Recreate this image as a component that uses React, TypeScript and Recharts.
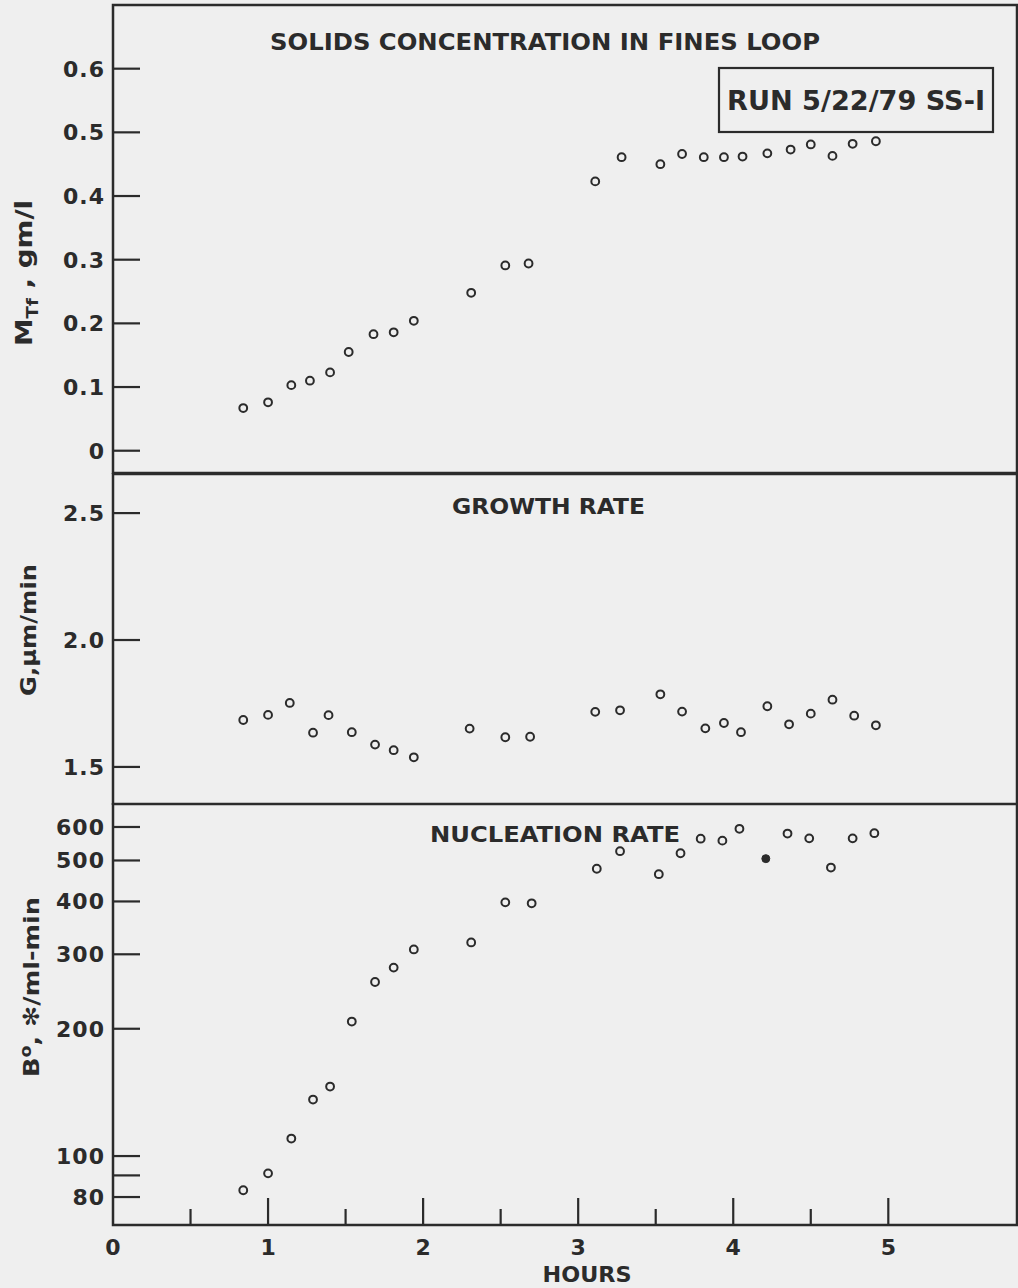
import React from 'react';
import { ScatterChart, Scatter, XAxis, YAxis, ReferenceArea } from 'recharts';

// Run 5/22/79 SS-1
const INK = '#2b2b2b';
const PAPER = '#efefef';
const FONT = '"DejaVu Sans", Verdana, sans-serif';
const XMAX = 5.83;

const hourTicks = [0, 0.5, 1, 1.5, 2, 2.5, 3, 3.5, 4, 4.5, 5];

// solids concentration in fines loop, gm/l
const solidsHours = [0.84, 1.0, 1.15, 1.27, 1.4, 1.52, 1.68, 1.81, 1.94, 2.31, 2.53, 2.68, 3.11, 3.28, 3.53, 3.67, 3.81, 3.94, 4.06, 4.22, 4.37, 4.5, 4.64, 4.77, 4.92];
const solidsConc = [0.067, 0.076, 0.103, 0.11, 0.123, 0.155, 0.183, 0.186, 0.204, 0.248, 0.291, 0.294, 0.423, 0.461, 0.45, 0.466, 0.461, 0.461, 0.462, 0.467, 0.473, 0.481, 0.463, 0.482, 0.486];
const solidsTicks = [0, 0.1, 0.2, 0.3, 0.4, 0.5, 0.6];

// growth rate, um/min
const growthHours = [0.84, 1.0, 1.14, 1.29, 1.39, 1.54, 1.69, 1.81, 1.94, 2.3, 2.53, 2.69, 3.11, 3.27, 3.53, 3.67, 3.82, 3.94, 4.05, 4.22, 4.36, 4.5, 4.64, 4.78, 4.92];
const growthRate = [1.685, 1.705, 1.752, 1.635, 1.704, 1.637, 1.588, 1.566, 1.538, 1.651, 1.617, 1.619, 1.717, 1.723, 1.786, 1.718, 1.652, 1.673, 1.637, 1.739, 1.668, 1.71, 1.765, 1.702, 1.664];
const growthTicks = [1.5, 2.0, 2.5];

// nucleation rate, #/ml-min (log axis); one point is drawn filled
const nucHours = [0.84, 1.0, 1.15, 1.29, 1.4, 1.54, 1.69, 1.81, 1.94, 2.31, 2.53, 2.7, 3.12, 3.27, 3.52, 3.66, 3.79, 3.93, 4.04, 4.21, 4.35, 4.49, 4.63, 4.77, 4.91];
const nucRate = [83, 91, 110, 136, 146, 208, 258, 279, 308, 320, 398, 396, 478, 526, 464, 520, 563, 557, 594, 505, 579, 564, 481, 564, 580];
const nucFilled = [false, false, false, false, false, false, false, false, false, false, false, false, false, false, false, false, false, false, false, true, false, false, false, false, false];
const nucTicks = [80, 90, 100, 200, 300, 400, 500, 600];

const solidsData = solidsHours.map((x, i) => ({ x, y: solidsConc[i] }));
const growthData = growthHours.map((x, i) => ({ x, y: growthRate[i] }));
const nucOpen = nucHours.map((x, i) => ({ x, y: nucRate[i] })).filter((_, i) => !nucFilled[i]);
const nucSolid = nucHours.map((x, i) => ({ x, y: nucRate[i] })).filter((_, i) => nucFilled[i]);

const OpenDot = (props: any) => (
  <circle cx={props.cx} cy={props.cy} r={3.9} fill="none" stroke={INK} strokeWidth={2} />
);
const FilledDot = (props: any) => (
  <circle cx={props.cx} cy={props.cy} r={4} fill={INK} stroke={INK} strokeWidth={1} />
);

// ticks point inward from the frame, labels sit outside
const makeYTick = (fmt: (v: number) => string) => (props: any) => {
  const { x, y, payload } = props;
  return (
    <g>
      <line x1={x} y1={y} x2={x + 27} y2={y} stroke={INK} strokeWidth={2.2} />
      <text x={x - 8} y={y} dy="0.36em" textAnchor="end" fontFamily={FONT} fontWeight={700}
        fontSize={22} fill={INK} letterSpacing={1}>
        {fmt(payload.value)}
      </text>
    </g>
  );
};

const HourTick = (props: any) => {
  const { x, y, payload } = props;
  const major = Number.isInteger(payload.value);
  return (
    <g>
      {payload.value > 0 && (
        <line x1={x} y1={y} x2={x} y2={y - (major ? 27 : 16)} stroke={INK} strokeWidth={2.2} />
      )}
      {major && (
        <text x={x} y={y + 30} textAnchor="middle" fontFamily={FONT} fontWeight={700}
          fontSize={22} fill={INK}>
          {payload.value}
        </text>
      )}
    </g>
  );
};

const frame = { fill: 'none', stroke: INK, strokeWidth: 2.5, fillOpacity: 0 };

const App: React.FC = () => {
  return (
    <div style={{ position: 'absolute', left: 0, top: 0, width: 1018, height: 1288, background: PAPER, overflow: 'hidden' }}>
      <div style={{ position: 'absolute', left: 0, top: 0 }}>
        <ScatterChart width={1018} height={474} margin={{ top: 5, right: 1, bottom: 1, left: 0 }}>
          <XAxis type="number" dataKey="x" domain={[0, XMAX]} hide allowDataOverflow />
          <YAxis type="number" dataKey="y" domain={[-0.035, 0.7]} ticks={solidsTicks} width={113}
            allowDataOverflow axisLine={false} tickLine={false} tickSize={0} tickMargin={0}
            tick={makeYTick((v) => (v === 0 ? '0' : v.toFixed(1)))} />
          <ReferenceArea x1={0} x2={XMAX} y1={-0.035} y2={0.7} {...frame} />
          <Scatter data={solidsData} shape={OpenDot} isAnimationActive={false} />
        </ScatterChart>
      </div>

      <div style={{ position: 'absolute', left: 0, top: 473 }}>
        <ScatterChart width={1018} height={332} margin={{ top: 1, right: 1, bottom: 1, left: 0 }}>
          <XAxis type="number" dataKey="x" domain={[0, XMAX]} hide allowDataOverflow />
          <YAxis type="number" dataKey="y" domain={[1.354, 2.654]} ticks={growthTicks} width={113}
            allowDataOverflow axisLine={false} tickLine={false} tickSize={0} tickMargin={0}
            tick={makeYTick((v) => v.toFixed(1))} />
          <ReferenceArea x1={0} x2={XMAX} y1={1.354} y2={2.654} {...frame} />
          <Scatter data={growthData} shape={OpenDot} isAnimationActive={false} />
        </ScatterChart>
      </div>

      <div style={{ position: 'absolute', left: 0, top: 803 }}>
        <ScatterChart width={1018} height={485} margin={{ top: 1, right: 1, bottom: 0, left: 0 }}>
          <XAxis type="number" dataKey="x" domain={[0, XMAX]} ticks={hourTicks} height={63}
            allowDataOverflow axisLine={false} tickLine={false} tickSize={0} tickMargin={0}
            tick={HourTick} interval={0} />
          <YAxis type="number" dataKey="y" scale="log" domain={[68.7, 680]} ticks={nucTicks} width={113}
            allowDataOverflow axisLine={false} tickLine={false} tickSize={0} tickMargin={0} interval={0}
            tick={makeYTick((v) => (v === 90 ? '' : String(v)))} />
          <ReferenceArea x1={0} x2={XMAX} y1={68.7} y2={680} {...frame} />
          <Scatter data={nucOpen} shape={OpenDot} isAnimationActive={false} />
          <Scatter data={nucSolid} shape={FilledDot} isAnimationActive={false} />
        </ScatterChart>
      </div>

      <svg width={1018} height={1288} style={{ position: 'absolute', left: 0, top: 0, pointerEvents: 'none' }}
        fontFamily={FONT} fontWeight={700} fill={INK}>
        <text x={270} y={50} fontSize={23} textLength={550} lengthAdjust="spacingAndGlyphs">SOLIDS CONCENTRATION IN FINES LOOP</text>
        <rect x={719} y={68} width={274} height={64} fill="none" stroke={INK} strokeWidth={2.2} />
        <text x={727} y={110} fontSize={26} textLength={258} lengthAdjust="spacingAndGlyphs">RUN 5/22/79  SS-I</text>
        <text x={452} y={514} fontSize={22} textLength={193} lengthAdjust="spacingAndGlyphs">GROWTH RATE</text>
        <text x={430} y={842} fontSize={22} textLength={250} lengthAdjust="spacingAndGlyphs">NUCLEATION RATE</text>
        <text x={587} y={1282} fontSize={21} textAnchor="middle" textLength={89} lengthAdjust="spacingAndGlyphs">HOURS</text>

        <text transform="translate(32,273) rotate(-90)" fontSize={23} textAnchor="middle" textLength={146} lengthAdjust="spacingAndGlyphs">
          M<tspan fontSize={15} dy={6}>Tf</tspan><tspan dy={-6}> , gm/l</tspan>
        </text>
        <text transform="translate(36,630) rotate(-90)" fontSize={22} textAnchor="middle" textLength={132} lengthAdjust="spacingAndGlyphs">G,µm/min</text>
        <text transform="translate(39,987) rotate(-90)" fontSize={22} textAnchor="middle" textLength={180} lengthAdjust="spacingAndGlyphs">
          B<tspan fontSize={15} dy={-8}>o</tspan><tspan dy={8}>, ✻/ml-min</tspan>
        </text>
      </svg>
    </div>
  );
};

export default App;
